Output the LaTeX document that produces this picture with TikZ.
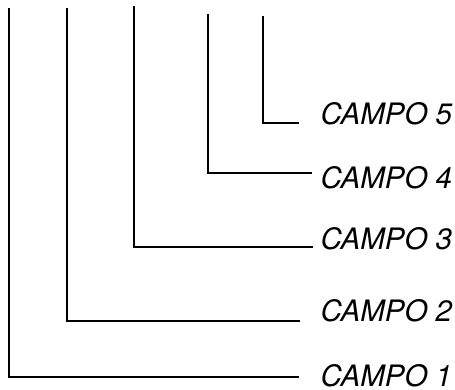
\documentclass[tikz,border=0pt]{standalone}
\usepackage{fontspec}
\setmainfont{TeX Gyre Heros}
\begin{document}
\begin{tikzpicture}[x=1pt, y=1pt, line width=1.2pt, line join=miter, line cap=butt,
	campo/.style={anchor=west, inner sep=0pt, font=\fontsize{29.5}{32}\selectfont\itshape}]
	\useasboundingbox (0,0) rectangle (455,390);
	
	% upper ends of the field lines
	\coordinate (T1) at (9,382);
	\coordinate (T2) at (67,382);
	\coordinate (T3) at (134,384);
	\coordinate (T4) at (208,376);
	\coordinate (T5) at (263,374);
	% corners
	\coordinate (K1) at (9,13);
	\coordinate (K2) at (67,69);
	\coordinate (K3) at (134,143);
	\coordinate (K4) at (208,217);
	\coordinate (K5) at (263,267);
	% free ends
	\coordinate (E1) at (299,13);
	\coordinate (E2) at (300,69);
	\coordinate (E3) at (313,143);
	\coordinate (E4) at (312,217);
	\coordinate (E5) at (299,267);
	
	\draw (T1) -- (K1) -- (E1);
	\draw (T2) -- (K2) -- (E2);
	\draw (T3) -- (K3) -- (E3);
	\draw (T4) -- (K4) -- (E4);
	\draw (T5) -- (K5) -- (E5);
	
	% labels
	\node[campo] (c1) at (320,14.5) {CAMPO 1};
	\node[campo] (c2) at (320,79.5) {CAMPO 2};
	\node[campo] (c3) at (320,151) {CAMPO 3};
	\node[campo] (c4) at (320,212) {CAMPO 4};
	\node[campo] (c5) at (320,276.5) {CAMPO 5};
\end{tikzpicture}
\end{document}
